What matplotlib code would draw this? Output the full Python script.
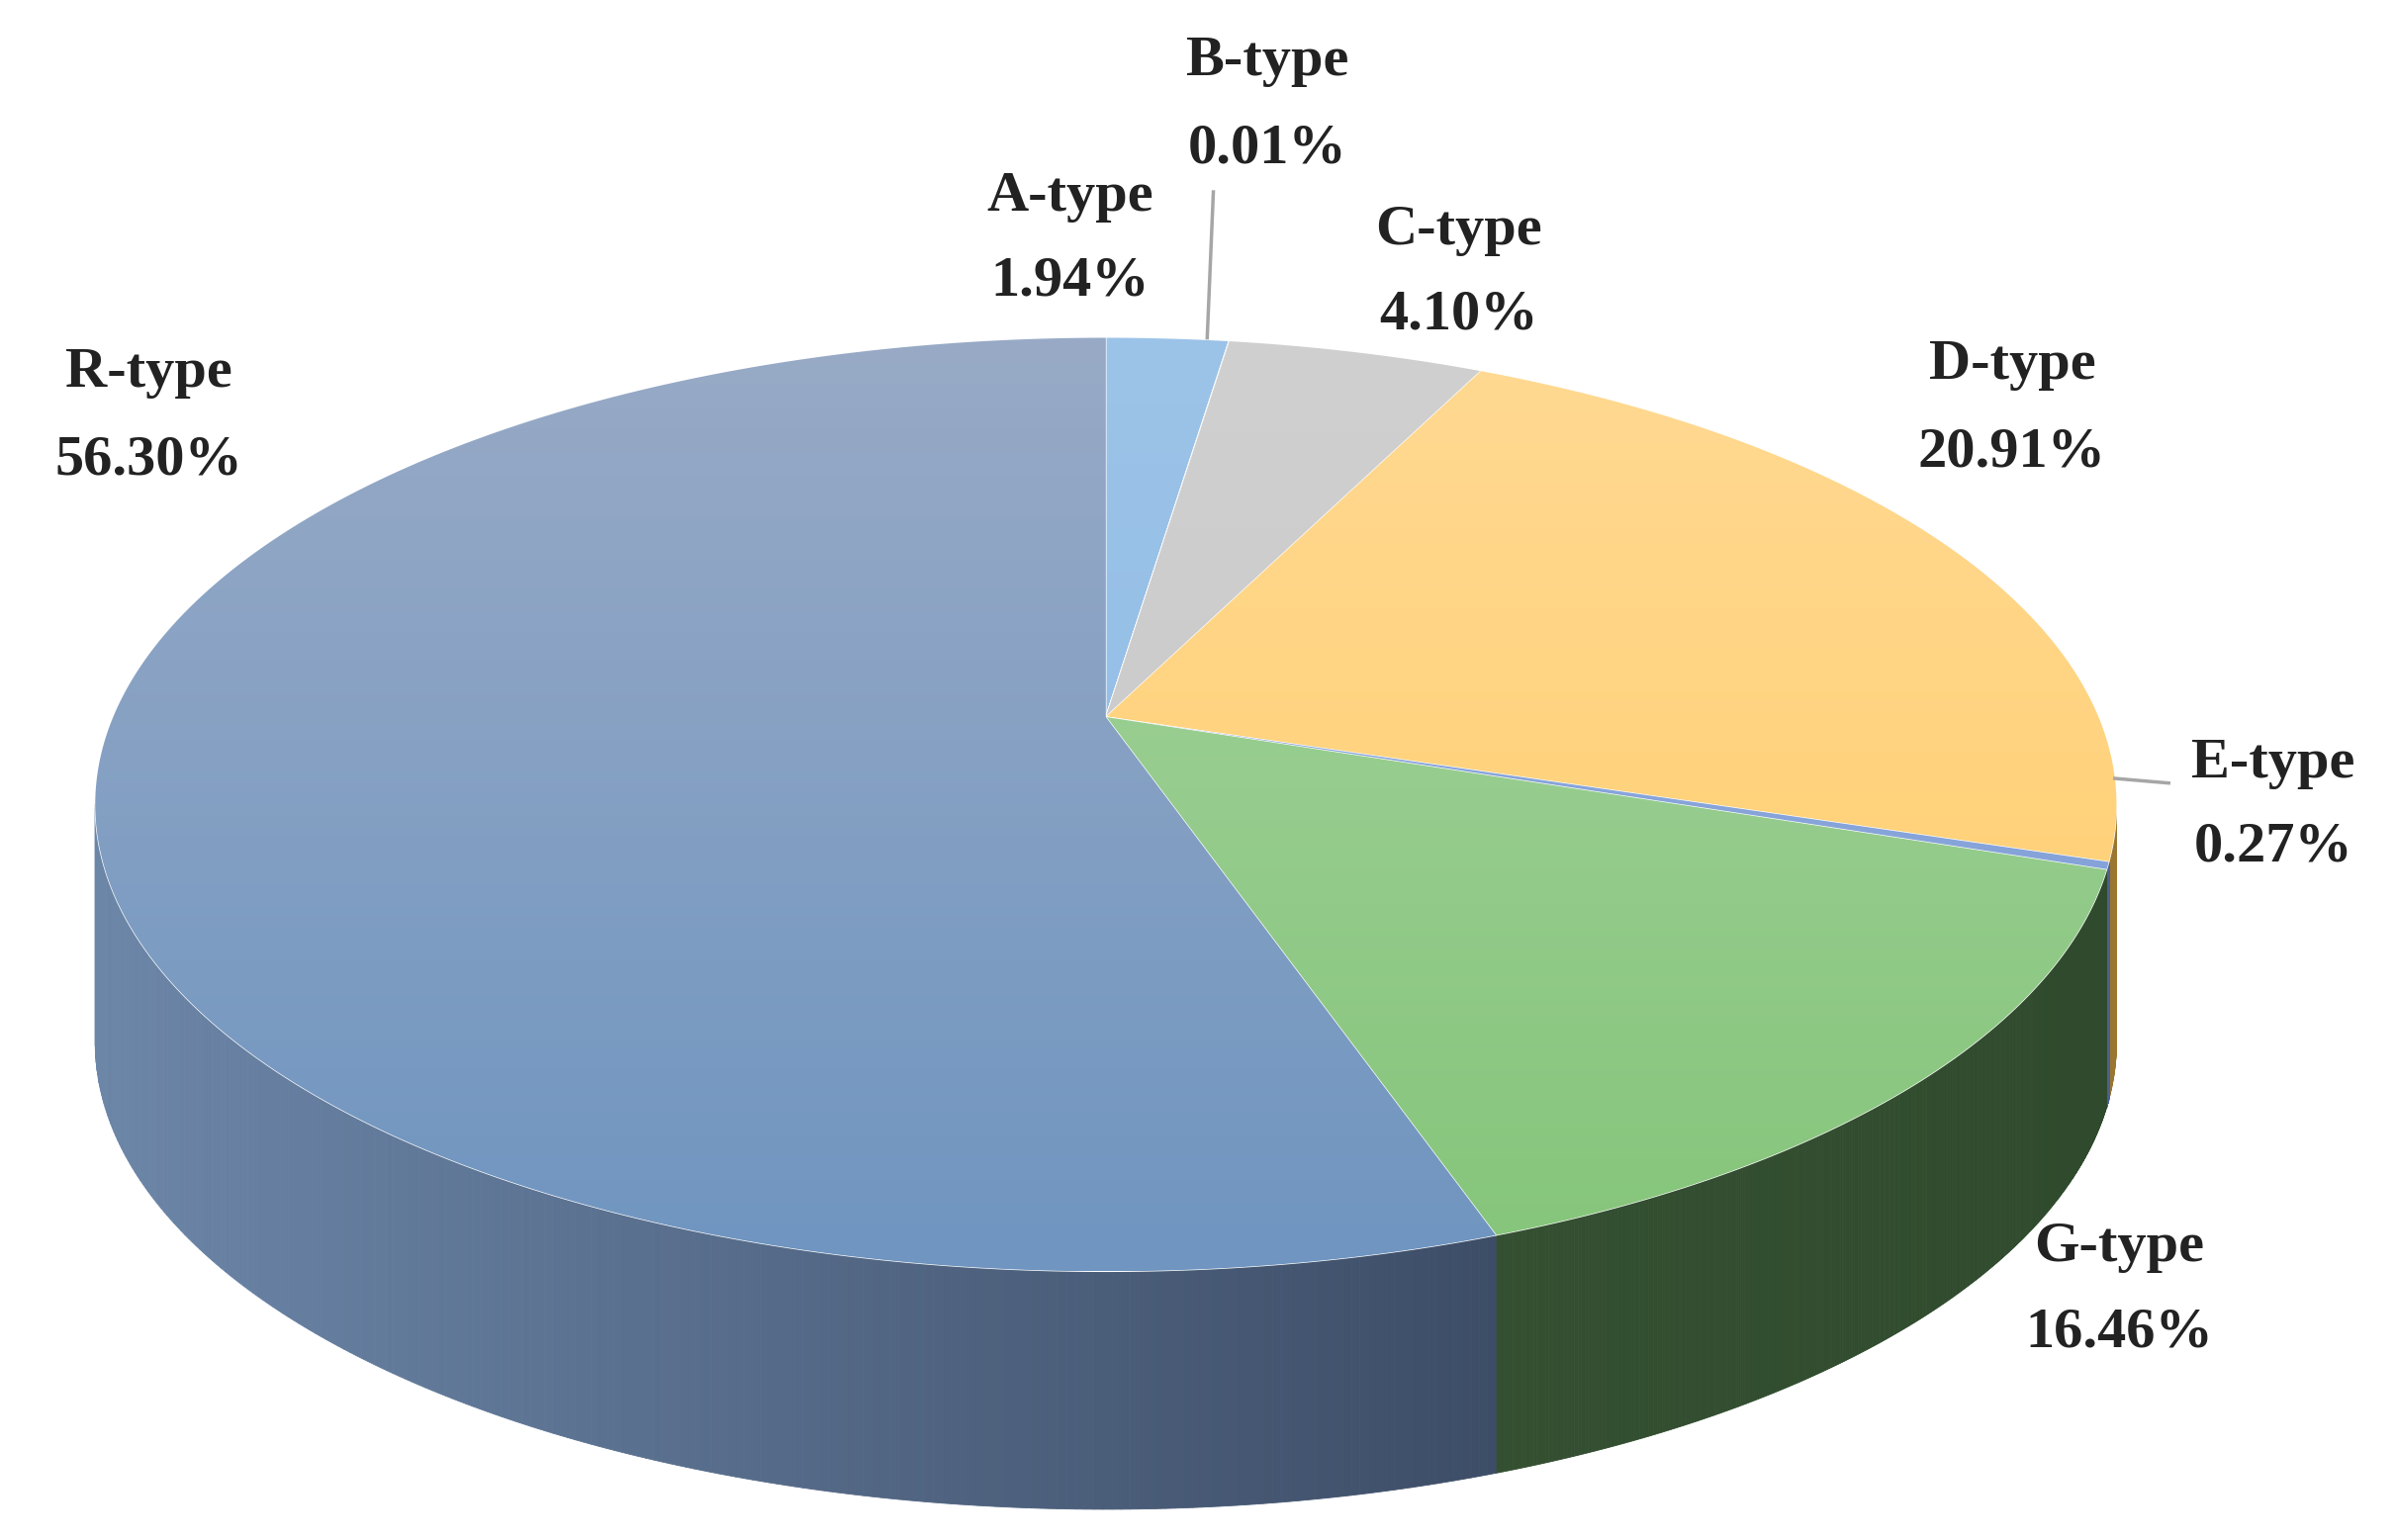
import numpy as np
import matplotlib
matplotlib.use("Agg")
import matplotlib.pyplot as plt
from matplotlib.patches import Polygon
from matplotlib.colors import to_rgb

labels = ["A-type", "B-type", "C-type", "D-type", "E-type", "G-type", "R-type"]
values = [1.94, 0.01, 4.10, 20.91, 0.27, 16.46, 56.30]
top_c1 = ["#9cc3e8", "#c8c8c8", "#d0d0d0", "#ffd993", "#8faadc", "#a6d3a0", "#98aac6"]
top_c2 = ["#8dbbe6", "#bcbcbc", "#c6c6c6", "#ffcc66", "#7f9fd8", "#85c57a", "#6f95c0"]
side_l = ["#6d8fb8", "#999999", "#999999", "#b08a40", "#5a72a0", "#3d5a3b", "#6c86a8"]
side_r = ["#5a7aa0", "#888888", "#888888", "#9a7630", "#4a6090", "#2f4a2c", "#28344a"]

fig = plt.figure(figsize=(24.22, 15.57), dpi=100)
ax = fig.add_axes([0, 0, 1, 1])
ax.set_xlim(0, 1560)
ax.set_ylim(1003, 0)
ax.axis("off")

cx, cy, rx, ry, depth = 720, 524, 658, 304, 155
apx, apy = 720, 467

def pt(t):
    r = np.radians(t)
    return cx + rx * np.cos(r), cy - ry * np.sin(r)

total = sum(values)
angles = [90]
for v in values:
    angles.append(angles[-1] - 360 * v / total)

def mix(a, b, f):
    a, b = np.array(to_rgb(a)), np.array(to_rgb(b))
    return a + (b - a) * f

# sides
for i in range(len(values)):
    t0, t1 = angles[i], angles[i + 1]
    ts = np.linspace(t1, t0, 400)
    for k in range(len(ts) - 1):
        a, b = ts[k], ts[k + 1]
        am = ((a + b) / 2) % 360
        if not (180 <= am <= 360):
            continue
        x1, y1 = pt(a); x2, y2 = pt(b)
        f = (((x1 + x2) / 2) - (cx - rx)) / (2 * rx)
        col = mix(side_l[i], side_r[i], f)
        ax.add_patch(Polygon([(x1, y1), (x2, y2), (x2, y2 + depth), (x1, y1 + depth)],
                             closed=True, facecolor=col, edgecolor=col, lw=0.6))

# tops with vertical gradient
for i in range(len(values)):
    t0, t1 = angles[i], angles[i + 1]
    ts = np.linspace(t0, t1, max(3, int(abs(t0 - t1) * 3)))
    verts = [(apx, apy)] + [pt(t) for t in ts]
    poly = Polygon(verts, closed=True, facecolor="none", edgecolor="white", lw=1.0)
    ax.add_patch(poly)
    grad = np.linspace(0, 1, 256)[:, None]
    c1, c2 = np.array(to_rgb(top_c1[i])), np.array(to_rgb(top_c2[i]))
    img = c1[None, None, :] + (c2 - c1)[None, None, :] * grad[:, :, None]
    img = np.repeat(img, 2, axis=1)
    im = ax.imshow(img, extent=(cx - rx, cx + rx, cy + ry, cy - ry), aspect="auto", zorder=1)
    im.set_clip_path(poly)
ax.set_xlim(0, 1560)
ax.set_ylim(1003, 0)

lab_pos = [(697, 128, 183), (825, 40, 97), (950, 150, 205), (1310, 238, 295),
           (1480, 497, 552), (1380, 812, 868), (97, 243, 300)]
for (x, y1, y2), l, v in zip(lab_pos, labels, values):
    ax.text(x, y1, l, ha="center", va="center", fontsize=42, fontweight="bold",
            family="Liberation Serif", color="#222222", zorder=5)
    ax.text(x, y2, f"{v:.2f}%", ha="center", va="center", fontsize=42, fontweight="bold",
            family="Liberation Serif", color="#222222", zorder=5)

ax.plot([786, 790], [220, 125], color="#a6a6a6", lw=2.5, zorder=4)
ax.plot([1377, 1412], [507, 510], color="#a6a6a6", lw=2.5, zorder=4)

fig.savefig("out.png", dpi=100)
